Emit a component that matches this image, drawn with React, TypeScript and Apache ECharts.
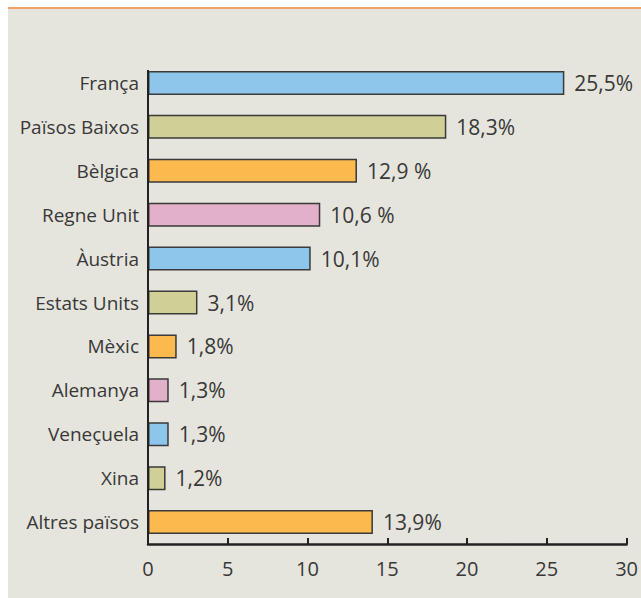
import React, { useEffect, useRef } from "react";
import * as echarts from "echarts";

const categories = [
  "França",
  "Països Baixos",
  "Bèlgica",
  "Regne Unit",
  "Àustria",
  "Estats Units",
  "Mèxic",
  "Alemanya",
  "Veneçuela",
  "Xina",
  "Altres països",
];
// bar lengths as drawn in the picture
const barValues = [26.1, 18.7, 13.1, 10.8, 10.2, 3.1, 1.8, 1.3, 1.3, 1.1, 14.1];
// printed value labels
const valueLabels = [
  "25,5%",
  "18,3%",
  "12,9 %",
  "10,6 %",
  "10,1%",
  "3,1%",
  "1,8%",
  "1,3%",
  "1,3%",
  "1,2%",
  "13,9%",
];
const palette = ["#8ec5ea", "#d0d096", "#fbb94e", "#e2b0c8"];
const xTicks = [0, 5, 10, 15, 20, 25, 30];

export default function App() {
  const ref = useRef<HTMLDivElement>(null);
  useEffect(() => {
    if (!ref.current) return;
    const chart = echarts.init(ref.current, null, { renderer: "svg" });
    const font = "'Open Sans', 'Noto Sans', sans-serif";
    chart.setOption({
      animation: false,
      backgroundColor: "#ffffff",
      textStyle: { fontFamily: font },
      graphic: [
        {
          type: "rect",
          z: -10,
          silent: true,
          shape: { x: 8, y: 8, width: 633, height: 590 },
          style: { fill: "#e6e5dd" },
        },
        {
          type: "line",
          z: -5,
          silent: true,
          shape: { x1: 8, y1: 8, x2: 641, y2: 8 },
          style: { stroke: "#f0a264", lineWidth: 2 },
        },
        {
          type: "line",
          z: 10,
          silent: true,
          shape: { x1: 148, y1: 70, x2: 148, y2: 545 },
          style: { stroke: "#222222", lineWidth: 2 },
        },
      ],
      grid: { left: 148, right: 12, top: 61, bottom: 54, containLabel: false },
      xAxis: {
        type: "value",
        min: xTicks[0],
        max: xTicks[xTicks.length - 1],
        interval: 5,
        splitLine: { show: false },
        axisLine: { show: true, lineStyle: { color: "#222222", width: 2.5 } },
        axisTick: { show: true, inside: true, length: 6, lineStyle: { color: "#222222", width: 2 } },
        axisLabel: {
          color: "#383838",
          fontSize: 20,
          margin: 14,
          fontFamily: font,
          formatter: (v: number) => String(v),
        },
      },
      yAxis: {
        type: "category",
        inverse: true,
        data: categories,
        axisLine: { show: false },
        axisTick: { show: false },
        axisLabel: { color: "#383838", fontSize: 19, margin: 9, fontFamily: font },
      },
      series: [
        {
          type: "bar",
          barWidth: 24,
          data: barValues.map((v, i) => ({
            value: v,
            itemStyle: {
              color: palette[i % palette.length],
              borderColor: "#3a3a3a",
              borderWidth: 1.5,
            },
          })),
          label: {
            show: true,
            position: "right",
            distance: 10,
            color: "#383838",
            fontSize: 21,
            fontFamily: font,
            formatter: (p: any) => valueLabels[p.dataIndex],
          },
        },
      ],
    });
    return () => chart.dispose();
  }, []);
  return (
    <div
      ref={ref}
      style={{ position: "absolute", left: 0, top: 0, width: 641, height: 598 }}
    />
  );
}
